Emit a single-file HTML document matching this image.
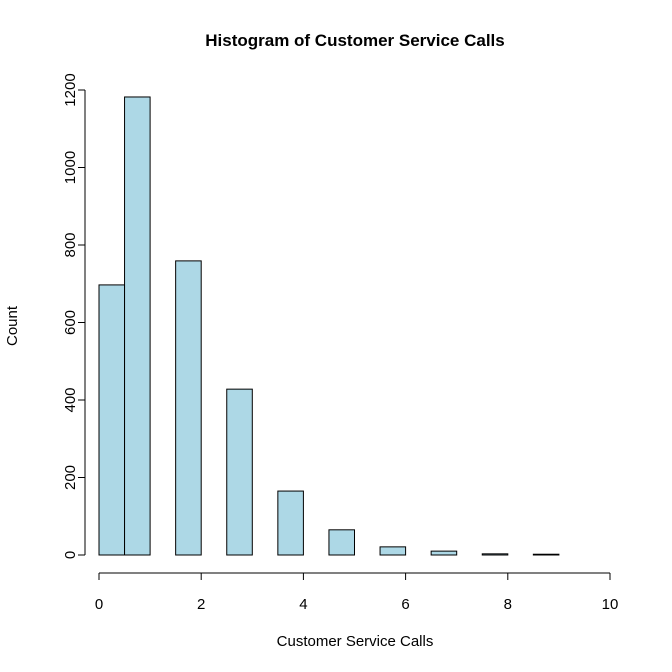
<!DOCTYPE html>
<html><head><meta charset="utf-8"><style>
html,body{margin:0;padding:0;background:#fff;}
svg{display:block;font-family:"Liberation Sans",Arial,sans-serif;}
</style></head><body>
<svg id="chart" width="672" height="672" viewBox="0 0 672 672">
<text x="355" y="46" text-anchor="middle" font-size="17" font-weight="bold">Histogram of Customer Service Calls</text>
<text x="355" y="646" text-anchor="middle" font-size="15">Customer Service Calls</text>
<text transform="translate(17,326) rotate(-90)" text-anchor="middle" font-size="15">Count</text>
<g id="bars"></g>
<g id="xaxis"></g>
<g id="yaxis"></g>
</svg>
<script>
const binStarts = [0, 0.5, 1.5, 2.5, 3.5, 4.5, 5.5, 6.5, 7.5, 8.5];
const binEnds   = [0.5, 1, 2, 3, 4, 5, 6, 7, 8, 9];
const counts    = [697, 1182, 759, 428, 165, 65, 21, 10, 3, 2];
const xTicks = [0, 2, 4, 6, 8, 10];
const yTicks = [0, 200, 400, 600, 800, 1000, 1200];

const NS = "http://www.w3.org/2000/svg";
function xs(v){ return 99 + v * 51.1; }
function ys(v){ return 555 - v * 0.3875; }
function mk(tag, attrs, parent){ const e=document.createElementNS(NS,tag); for(const k in attrs) e.setAttribute(k,attrs[k]); parent.appendChild(e); return e; }

const bars = document.getElementById('bars');
counts.forEach((c,i)=>{
  const x0=xs(binStarts[i]), x1=xs(binEnds[i]);
  const r = mk('rect',{x:x0,y:ys(c),width:x1-x0,height:ys(0)-ys(c),fill:'#ADD8E6',stroke:'#000','stroke-width':1},bars);
  
  
});

const xa = document.getElementById('xaxis');
mk('line',{x1:xs(0),x2:xs(10),y1:573,y2:573,stroke:'#000'},xa);
xTicks.forEach(t=>{
  mk('line',{x1:xs(t),x2:xs(t),y1:573,y2:580,stroke:'#000'},xa);
  const tx = mk('text',{x:xs(t),y:609,'text-anchor':'middle','font-size':15},xa);
  tx.textContent = t;
  
  
});

const ya = document.getElementById('yaxis');
mk('line',{x1:85,x2:85,y1:ys(0),y2:ys(1200),stroke:'#000'},ya);
yTicks.forEach(t=>{
  mk('line',{x1:78,x2:85,y1:ys(t),y2:ys(t),stroke:'#000'},ya);
  const tx = mk('text',{transform:`translate(75,${ys(t)}) rotate(-90)`,'text-anchor':'middle','font-size':15},ya);
  tx.textContent = t;
  
  
});
</script>
</body></html>
